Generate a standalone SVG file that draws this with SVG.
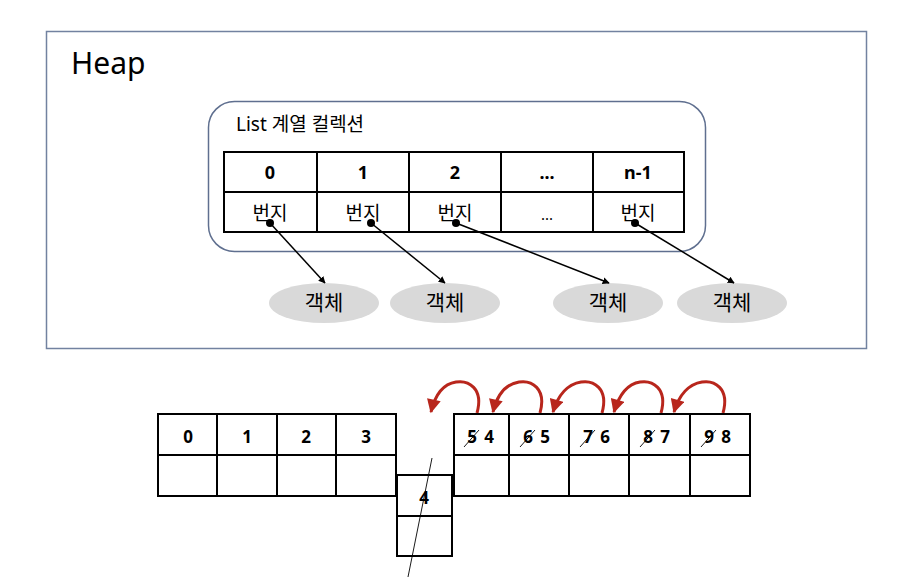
<svg xmlns="http://www.w3.org/2000/svg" width="914" height="588" viewBox="0 0 914 588">
<style>
.t{font-family:"Noto Sans","Noto Sans CJK KR",sans-serif;fill:#000}
.b{font-weight:bold;font-size:18px;text-anchor:middle}
.r{font-size:19px;text-anchor:middle}
.o{font-size:21px;text-anchor:middle}
.d{font-size:17px;font-weight:bold;text-anchor:middle}
.cell{fill:#fff;stroke:#000;stroke-width:2}
.ln{stroke:#000;stroke-width:1.5;fill:none}
.obj{fill:#d9d9d9}
.red{stroke:#b8261c;stroke-width:3;fill:none}
.sl{stroke:#000;stroke-width:0.9}
</style>
<defs>
<marker id="ah" viewBox="0 0 10 10" refX="9" refY="5" markerWidth="7" markerHeight="7" markerUnits="userSpaceOnUse" orient="auto"><path d="M0,0L10,5L0,10z" fill="#000"/></marker>
<marker id="dot" viewBox="0 0 10 10" refX="5" refY="5" markerWidth="8" markerHeight="8" markerUnits="userSpaceOnUse"><circle cx="5" cy="5" r="5" fill="#000"/></marker>
<marker id="rh" viewBox="0 0 10 10" refX="9" refY="5" markerWidth="16" markerHeight="14" markerUnits="userSpaceOnUse" orient="auto"><path d="M0,0L10,5L0,10z" fill="#b8261c"/></marker>
</defs>
<rect width="914" height="588" fill="#fff"/>
<g id="heap">
<rect x="46.5" y="31.5" width="820" height="317" fill="none" stroke="#7282a0" stroke-width="1.5"/>
<text class="t" x="71" y="74" font-size="30">Heap</text>
</g>
<g id="list">
<rect x="208.5" y="101.5" width="497" height="150" rx="26" fill="none" stroke="#5f6f8f" stroke-width="1.5"/>
<text class="t" x="236" y="131" font-size="19">List 계열 컬렉션</text>
<rect class="cell" x="224" y="152" width="460" height="80"/>
<path d="M224,192H684M317,152V232M409,152V232M501,152V232M593,152V232" stroke="#000" stroke-width="2"/>
<text class="t b" x="270" y="179">0</text>
<text class="t b" x="363" y="179">1</text>
<text class="t b" x="455" y="179">2</text>
<text class="t b" x="547" y="179">...</text>
<text class="t b" x="638" y="179">n-1</text>
<text class="t r" x="270" y="220">번지</text>
<text class="t r" x="363" y="220">번지</text>
<text class="t r" x="455" y="220">번지</text>
<text class="t" x="547" y="220" font-size="15" text-anchor="middle">...</text>
<text class="t r" x="638" y="220">번지</text>
</g>
<g id="obj1"><ellipse class="obj" cx="324" cy="303" rx="55" ry="20"/><text class="t o" x="324" y="310">객체</text></g>
<g id="obj2"><ellipse class="obj" cx="445" cy="303" rx="55" ry="20"/><text class="t o" x="445" y="310">객체</text></g>
<g id="obj3"><ellipse class="obj" cx="608" cy="303" rx="55" ry="20"/><text class="t o" x="608" y="310">객체</text></g>
<g id="obj4"><ellipse class="obj" cx="732" cy="303" rx="55" ry="20"/><text class="t o" x="732" y="310">객체</text></g>
<g id="connectors">
<path class="ln" marker-start="url(#dot)" marker-end="url(#ah)" d="M270,223L325,283"/>
<path class="ln" marker-start="url(#dot)" marker-end="url(#ah)" d="M371,223L445,283"/>
<path class="ln" marker-start="url(#dot)" marker-end="url(#ah)" d="M456,223L609,283"/>
<path class="ln" marker-start="url(#dot)" marker-end="url(#ah)" d="M635,223L734,283"/>
<path class="red" marker-end="url(#rh)" d="M477,413C484,388 468,380 456,382C443,384 435,395 431,412"/>
<path class="red" marker-end="url(#rh)" d="M540,413C547,388 531,380 519,382C506,384 497,395 493,412"/>
<path class="red" marker-end="url(#rh)" d="M602,413C609,388 593,380 581,382C568,384 558,395 553,412"/>
<path class="red" marker-end="url(#rh)" d="M661,413C668,388 652,380 640,382C627,384 619,395 614,412"/>
<path class="red" marker-end="url(#rh)" d="M723,413C730,388 714,380 702,382C689,384 679,395 674,412"/>
</g>
<g id="leftArray">
<rect class="cell" x="158" y="414" width="238" height="82"/>
<path d="M158,455H396M217,414V496M277,414V496M336,414V496" stroke="#000" stroke-width="2"/>
<text class="t d" x="188" y="443">0</text>
<text class="t d" x="247" y="443">1</text>
<text class="t d" x="306" y="443">2</text>
<text class="t d" x="366" y="443">3</text>
</g>
<g id="removed">
<rect class="cell" x="397" y="475" width="55" height="81"/>
<path d="M397,516H452" stroke="#000" stroke-width="2"/>
<text class="t d" x="424" y="504">4</text>
<path class="sl" d="M432,458L408,577"/>
</g>
<g id="rightArray">
<rect class="cell" x="454" y="414" width="296" height="82"/>
<path d="M454,455H750M509,414V496M569,414V496M629,414V496M690,414V496" stroke="#000" stroke-width="2"/>
<text class="t d" x="472" y="443">5</text><text class="t d" x="489" y="443">4</text>
<text class="t d" x="528" y="443">6</text><text class="t d" x="545" y="443">5</text>
<text class="t d" x="588" y="443">7</text><text class="t d" x="605" y="443">6</text>
<text class="t d" x="648" y="443">8</text><text class="t d" x="665" y="443">7</text>
<text class="t d" x="709" y="443">9</text><text class="t d" x="726" y="443">8</text>
<path class="sl" d="M464,447L479,430M520,447L535,430M580,447L595,430M640,447L655,430M701,447L716,430"/>
</g>
</svg>
